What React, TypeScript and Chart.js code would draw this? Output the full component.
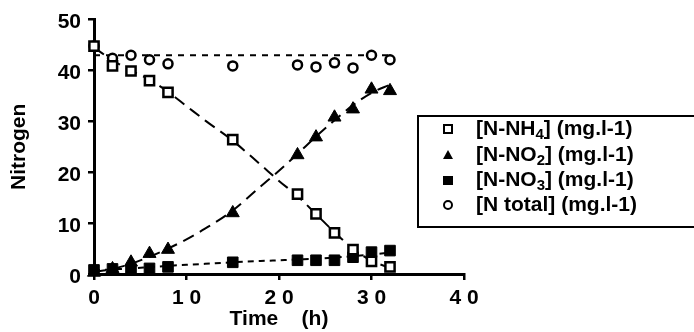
import React, { useEffect, useRef } from 'react';
import { Chart, registerables } from 'chart.js';

Chart.register(...registerables);

// Measured data (time in h, nitrogen in mg/l)
const times = [0, 2, 4, 6, 8, 15, 22, 24, 26, 28, 30, 32];
const nh4 = [44.8, 40.9, 39.9, 38.0, 35.7, 26.4, 15.7, 11.8, 8.1, 4.8, 2.5, 1.4];
const no2 = [0.3, 1.0, 2.3, 4.0, 4.8, 12.0, 23.4, 26.9, 30.8, 32.4, 36.3, 36.0];
const no3 = [0.8, 1.0, 0.8, 1.1, 1.4, 2.3, 2.7, 2.7, 2.7, 3.3, 4.3, 4.6];
const ntotal = [44.8, 42.4, 43.0, 42.1, 41.3, 40.9, 41.1, 40.7, 41.5, 40.5, 43.0, 42.1];

// Fitted curves
const fitTimes = [0, 2, 4, 6, 8, 10, 12, 15, 18, 20, 22, 24, 26, 28, 30, 32];
const nh4Fit = [44.5, 42, 40, 38.2, 35.8, 33, 30.2, 26.2, 21.5, 18.3, 15.3, 11.8, 8.2, 5, 2.6, 1.2];
const no2Fit = [0.4, 1, 2, 3.4, 5, 6.8, 8.9, 12.5, 17.2, 20.3, 23.6, 27, 30.2, 33.2, 35.6, 37.2];
const no3Fit = [0.7, 0.9, 1.1, 1.35, 1.6, 1.8, 2.0, 2.3, 2.55, 2.7, 2.85, 3.0, 3.25, 3.5, 3.8, 4.2];
const totalFitTimes = [0, 32];
const totalFit = [43, 43];

const xTickValues = [0, 10, 20, 30, 40];
const xTickLabels = ['0', '1 0', '2 0', '3 0', '4 0'];
const legendMain = ['[N-NH', '[N-NO', '[N-NO', '[N total'];
const legendSub = ['4', '2', '3', ''];
const legendRest = ['] (mg.l-1)', '] (mg.l-1)', '] (mg.l-1)', '] (mg.l-1)'];

const FONT = '"Liberation Sans", Arial, Helvetica, sans-serif';

const pts = (xs: number[], ys: number[]) => xs.map((x, i) => ({ x, y: ys[i] }));

const legendPlugin = {
  id: 'customLegend',
  afterDraw(chart: any) {
    const ctx = chart.ctx as CanvasRenderingContext2D;
    ctx.save();
    ctx.strokeStyle = '#000';
    ctx.fillStyle = '#000';
    ctx.lineWidth = 2;
    ctx.strokeRect(418, 116, 300, 111);
    const rowY = [129, 155, 180, 205];
    const sx = 448;
    rowY.forEach((y, i) => {
      ctx.save();
      ctx.lineWidth = 2;
      if (i === 0) {
        ctx.fillStyle = '#fff';
        ctx.fillRect(sx - 4, y - 4, 8, 8);
        ctx.strokeRect(sx - 4, y - 4, 8, 8);
      } else if (i === 1) {
        ctx.beginPath();
        ctx.moveTo(sx, y - 5);
        ctx.lineTo(sx + 5, y + 4);
        ctx.lineTo(sx - 5, y + 4);
        ctx.closePath();
        ctx.fill();
      } else if (i === 2) {
        ctx.fillRect(sx - 5, y - 4, 10, 9);
      } else {
        ctx.beginPath();
        ctx.arc(sx, y, 4, 0, Math.PI * 2);
        ctx.stroke();
      }
      ctx.restore();
      ctx.textBaseline = 'middle';
      ctx.textAlign = 'left';
      let x = 476;
      ctx.font = `bold 21px ${FONT}`;
      ctx.fillText(legendMain[i], x, y);
      x += ctx.measureText(legendMain[i]).width;
      if (legendSub[i]) {
        ctx.font = `bold 15px ${FONT}`;
        ctx.fillText(legendSub[i], x, y + 6);
        x += ctx.measureText(legendSub[i]).width;
      }
      ctx.font = `bold 21px ${FONT}`;
      ctx.fillText(legendRest[i], x, y);
    });
    ctx.restore();
  },
};

export default function App() {
  const ref = useRef<HTMLCanvasElement | null>(null);
  useEffect(() => {
    if (!ref.current) return;
    const lineBase = {
      type: 'line' as const,
      showLine: true,
      pointRadius: 0,
      borderColor: '#000',
      borderWidth: 2,
      fill: false,
      tension: 0.4,
      cubicInterpolationMode: 'monotone' as const,
      order: 10,
      clip: false as any,
    };
    const chart = new Chart(ref.current, {
      type: 'scatter',
      data: {
        datasets: [
          { ...lineBase, label: 'nh4Fit', data: pts(fitTimes, nh4Fit), borderDash: [12, 7] },
          { ...lineBase, label: 'no2Fit', data: pts(fitTimes, no2Fit), borderDash: [12, 7] },
          { ...lineBase, label: 'no3Fit', data: pts(fitTimes, no3Fit), borderDash: [6, 5] },
          { ...lineBase, label: 'totalFit', data: pts(totalFitTimes, totalFit), borderDash: [6, 6], tension: 0 },
          {
            label: '[N-NH4] (mg.l-1)', data: pts(times, nh4), pointStyle: 'rect', pointRadius: 6.5,
            backgroundColor: '#fff', borderColor: '#000', borderWidth: 2.5, order: 1, clip: false as any,
          },
          {
            label: '[N-NO2] (mg.l-1)', data: pts(times, no2), pointStyle: 'triangle', pointRadius: 7.5,
            backgroundColor: '#000', borderColor: '#000', borderWidth: 1, order: 1, clip: false as any,
          },
          {
            label: '[N-NO3] (mg.l-1)', data: pts(times, no3), pointStyle: 'rect', pointRadius: 7.5,
            backgroundColor: '#000', borderColor: '#000', borderWidth: 1, order: 1, clip: false as any,
          },
          {
            label: '[N total] (mg.l-1)', data: pts(times, ntotal), pointStyle: 'circle', pointRadius: 4.5,
            backgroundColor: '#fff', borderColor: '#000', borderWidth: 2.5, order: 1, clip: false as any,
          },
        ],
      },
      options: {
        responsive: false,
        animation: false,
        layout: { padding: { left: 0, top: 16, right: 230, bottom: 0 } },
        plugins: { legend: { display: false }, tooltip: { enabled: false } },
        scales: {
          x: {
            type: 'linear',
            min: 0,
            max: 40,
            afterFit: (s: any) => { s.height = 58; },
            afterBuildTicks: (s: any) => { s.ticks = xTickValues.map((v) => ({ value: v })); },
            ticks: {
              color: '#000',
              padding: 6,
              font: { family: FONT, size: 21, weight: 'bold' },
              maxRotation: 0,
              callback: (v: any) => xTickLabels[xTickValues.indexOf(Number(v))] ?? '',
            },
            grid: { display: true, drawOnChartArea: false, drawTicks: true, tickLength: 6, color: '#000', lineWidth: 2.5 },
            border: { display: true, color: '#000', width: 3 },
            title: {
              display: true,
              text: 'Time    (h)',
              color: '#000',
              font: { family: FONT, size: 21, weight: 'bold' },
              padding: { top: 0, bottom: 0 },
            },
          },
          y: {
            type: 'linear',
            min: 0,
            max: 50,
            afterFit: (s: any) => { s.width = 94; },
            ticks: {
              stepSize: 10,
              color: '#000',
              padding: 7,
              labelOffset: 3,
              font: { family: FONT, size: 21, weight: 'bold' },
            },
            grid: { display: true, drawOnChartArea: false, drawTicks: true, tickLength: 6, color: '#000', lineWidth: 2.5 },
            border: { display: true, color: '#000', width: 3 },
            title: {
              display: true,
              text: 'Nitrogen',
              color: '#000',
              font: { family: FONT, size: 21, weight: 'bold' },
              padding: { top: 7, bottom: 0 },
            },
          },
        },
      },
      plugins: [legendPlugin],
    });
    return () => chart.destroy();
  }, []);
  return (
    <canvas
      ref={ref}
      width={694}
      height={332}
      style={{ position: 'absolute', left: 0, top: 0, width: 694, height: 332, display: 'block', background: '#fff' }}
    />
  );
}
